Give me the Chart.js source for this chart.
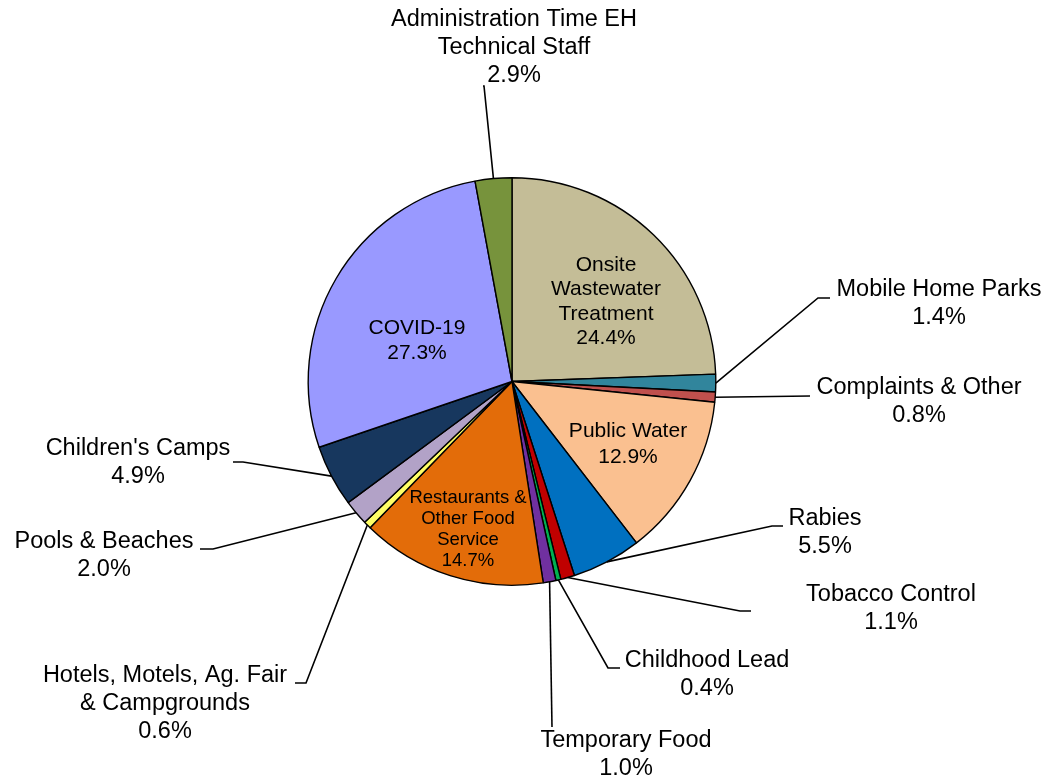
<!DOCTYPE html>
<html>
<head>
<meta charset="utf-8">
<script src="https://cdn.jsdelivr.net/npm/chart.js@4/dist/chart.umd.min.js"></script>
<style>
  html, body { margin: 0; padding: 0; background: #fff; }
  canvas { display: block; }
</style>
</head>
<body>
<canvas id="myChart" width="1050" height="781"></canvas>
<script>
const categories = [
  'Onsite Wastewater Treatment', 'Mobile Home Parks', 'Complaints & Other', 'Public Water',
  'Rabies', 'Tobacco Control', 'Childhood Lead', 'Temporary Food',
  'Restaurants & Other Food Service', 'Hotels, Motels, Ag. Fair & Campgrounds',
  'Pools & Beaches', "Children's Camps", 'COVID-19', 'Administration Time EH Technical Staff'
];
const shares = [24.4, 1.4, 0.8, 12.9, 5.5, 1.1, 0.4, 1.0, 14.7, 0.6, 2.0, 4.9, 27.3, 2.9];
const labelLines = [
  ['Onsite', 'Wastewater', 'Treatment'], ['Mobile Home Parks'], ['Complaints & Other'], ['Public Water'],
  ['Rabies'], ['Tobacco Control'], ['Childhood Lead'], ['Temporary Food'],
  ['Restaurants &', 'Other Food', 'Service'], ['Hotels, Motels, Ag. Fair', '& Campgrounds'],
  ['Pools & Beaches'], ["Children's Camps"], ['COVID-19'], ['Administration Time EH', 'Technical Staff']
];
const sliceColors = [
  '#C4BD97', '#31859C', '#C0504D', '#FAC090', '#0070C0', '#C00000', '#00B050',
  '#7030A0', '#E36C09', '#FFFF66', '#B2A2C7', '#17375E', '#9999FF', '#77933C'
];

// where each label sits: inside ones only need text position, outside ones get a leader line
const labelLayout = [
  { x: 606, y: 265, size: 21, lh: 24.5 },
  { x: 939, y: 290, elbow: [818, 298], end: [830, 298] },
  { x: 919, y: 388, elbow: [810, 396], end: [810, 396] },
  { x: 628, y: 431, size: 21, lh: 26 },
  { x: 825, y: 519, elbow: [772, 526], end: [783, 526] },
  { x: 891, y: 595, elbow: [740, 611], end: [751, 611] },
  { x: 707, y: 661, elbow: [608, 668], end: [620, 668] },
  { x: 626, y: 741, elbow: [552, 727], end: [552, 727] },
  { x: 468, y: 498, size: 18.5, lh: 21 },
  { x: 165, y: 676, elbow: [306, 683], end: [295, 683] },
  { x: 104, y: 542, elbow: [213, 549], end: [200, 549] },
  { x: 138, y: 449, elbow: [243, 462], end: [233, 462] },
  { x: 417, y: 328, size: 21, lh: 25 },
  { x: 514, y: 20, elbow: [484, 86], end: [483, 86] }
];

const pieLabels = {
  id: 'pieLabels',
  afterDatasetsDraw(chart) {
    const ctx = chart.ctx;
    const meta = chart.getDatasetMeta(0);
    ctx.save();
    ctx.fillStyle = '#000';
    ctx.strokeStyle = '#000';
    ctx.textAlign = 'center';
    ctx.textBaseline = 'middle';
    meta.data.forEach((arc, i) => {
      const lay = labelLayout[i];
      const lines = labelLines[i].concat([shares[i].toFixed(1) + '%']);
      if (lay.elbow) {
        const p = arc.getProps(['x', 'y', 'startAngle', 'endAngle', 'outerRadius']);
        const mid = (p.startAngle + p.endAngle) / 2;
        const sx = p.x + Math.cos(mid) * p.outerRadius;
        const sy = p.y + Math.sin(mid) * p.outerRadius;
        ctx.lineWidth = 1.6;
        ctx.beginPath();
        ctx.moveTo(sx, sy);
        ctx.lineTo(lay.elbow[0], lay.elbow[1]);
        ctx.lineTo(lay.end[0], lay.end[1]);
        ctx.stroke();
      }
      const size = lay.size || 23.5;
      const lh = lay.lh || 28;
      ctx.font = size + 'px "Liberation Sans", Arial, sans-serif';
      lines.forEach((t, k) => ctx.fillText(t, lay.x, lay.y + k * lh));
    });
    ctx.restore();
  }
};

new Chart(document.getElementById('myChart'), {
  type: 'pie',
  data: {
    labels: categories,
    datasets: [{
      data: shares,
      backgroundColor: sliceColors,
      borderColor: '#000',
      borderWidth: 1.4
    }]
  },
  options: {
    responsive: false,
    animation: false,
    layout: { padding: { left: 307.5, right: 333.5, top: 177, bottom: 195 } },
    plugins: {
      legend: { display: false },
      tooltip: { enabled: false }
    }
  },
  plugins: [pieLabels]
});
</script>
</body>
</html>
